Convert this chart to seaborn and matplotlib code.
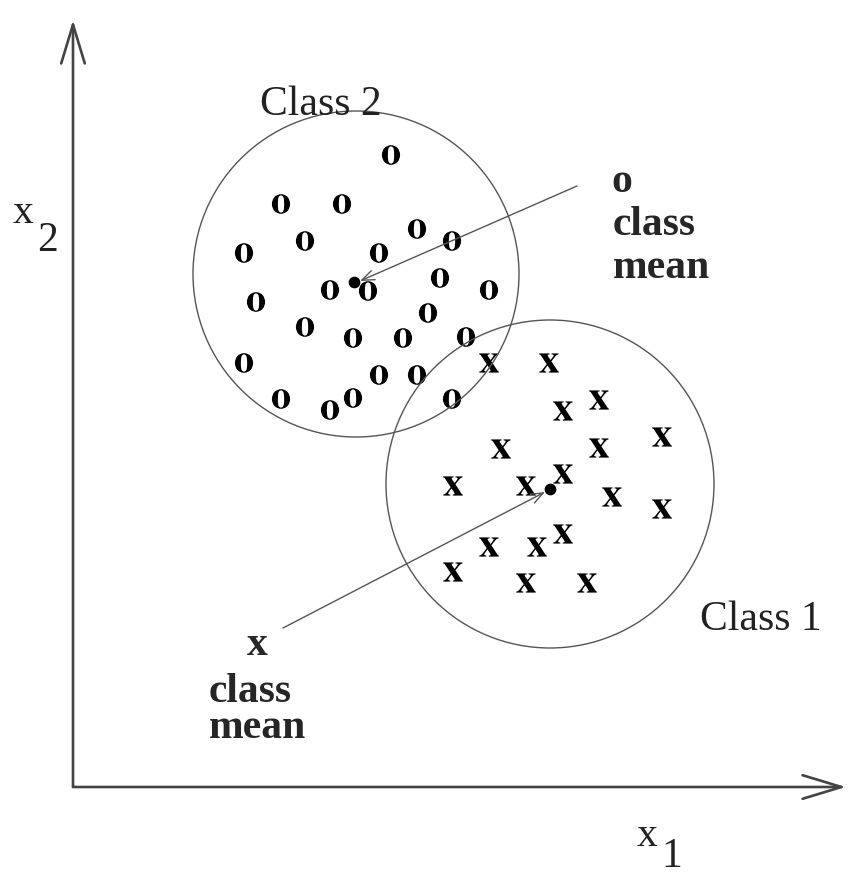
import matplotlib
matplotlib.use("Agg")
import matplotlib.pyplot as plt
import numpy as np
import pandas as pd
import seaborn as sns
from matplotlib.patches import Circle, FancyArrowPatch

# sample positions (pixel-like units, y grows downward)
class2_x = [391, 281, 342, 417, 452, 305, 244, 379, 440, 330, 368, 489, 256,
            428, 305, 353, 403, 466, 244, 379, 417, 281, 330, 353, 452]
class2_y = [155, 204, 204, 229, 241, 241, 253, 253, 278, 290, 291, 290, 302,
            313, 327, 338, 338, 337, 363, 375, 375, 399, 410, 398, 399]
class1_x = [489, 549, 599, 563, 662, 501, 599, 453, 526, 563, 612, 662, 489,
            537, 563, 453, 526, 587]
class1_y = [363, 363, 400, 411, 437, 449, 448, 486, 486, 474, 497, 509, 547,
            547, 534, 572, 583, 583]

class_names = ["Class 2", "Class 1"]
mean_x = [354, 550]
mean_y = [282, 489]
circle_x = [356, 550]
circle_y = [274, 484]
circle_r = [163, 164]

df = pd.DataFrame({
    "x1": class2_x + class1_x,
    "x2": class2_y + class1_y,
    "cls": ["Class 2"] * len(class2_x) + ["Class 1"] * len(class1_x),
})

sns.set_theme(style="white")
plt.rcParams["font.family"] = ["Liberation Serif", "DejaVu Serif"]
plt.rcParams["mathtext.fontset"] = "stix"

fig = plt.figure(figsize=(8.52, 8.76), dpi=100)
ax = fig.add_axes([0, 0, 1, 1])
ax.set_xlim(0, 852)
ax.set_ylim(876, 0)
ax.axis("off")

sns.scatterplot(
    data=df, x="x1", y="x2", hue="cls", style="cls",
    markers={"Class 2": r"$\mathbf{o}$", "Class 1": r"$\mathbf{x}$"},
    palette={"Class 2": "black", "Class 1": "black"},
    s=200, linewidth=0, legend=False, ax=ax,
)

# class boundaries and means
for cx, cy, r in zip(circle_x, circle_y, circle_r):
    ax.add_patch(Circle((cx, cy), r, fill=False, edgecolor="#555555", lw=1.0))
ax.scatter(mean_x, mean_y, s=55, color="black", zorder=5)

# coordinate axes
axis_kw = dict(arrowstyle="->,head_length=28,head_width=8.5", mutation_scale=1,
               color="#444444", lw=1.9, shrinkA=0, shrinkB=0)
ax.add_patch(FancyArrowPatch((73, 787), (73, 20), **axis_kw))
ax.add_patch(FancyArrowPatch((73, 787), (846, 787), **axis_kw))

# pointer arrows to the means
ptr_kw = dict(arrowstyle="->,head_length=9,head_width=3.5", mutation_scale=1,
              color="#555555", lw=1.0, shrinkA=0, shrinkB=0)
ax.add_patch(FancyArrowPatch((577, 186), (360, 281), **ptr_kw))
ax.add_patch(FancyArrowPatch((283, 628), (545, 492), **ptr_kw))

fs = 30
ax.text(260, 115, "Class 2", fontsize=fs, color="#222222", va="baseline")
ax.text(700, 630, "Class 1", fontsize=fs, color="#222222", va="baseline")

ax.text(622, 182, "o", fontsize=fs, fontweight="bold", ha="center", va="center")
ax.text(613, 235, "class", fontsize=fs, fontweight="bold", va="baseline")
ax.text(613, 278, "mean", fontsize=fs, fontweight="bold", va="baseline")

ax.text(257, 645, "x", fontsize=fs, fontweight="bold", ha="center", va="center")
ax.text(209, 702, "class", fontsize=fs, fontweight="bold", va="baseline")
ax.text(209, 738, "mean", fontsize=fs, fontweight="bold", va="baseline")

ax.text(13, 223, "x", fontsize=fs, color="#222222", va="baseline")
ax.text(37, 251, "2", fontsize=fs, color="#222222", va="baseline")
ax.text(637, 846, "x", fontsize=fs, color="#222222", va="baseline")
ax.text(661, 867, "1", fontsize=fs, color="#222222", va="baseline")

fig.savefig("out.png", dpi=100)
